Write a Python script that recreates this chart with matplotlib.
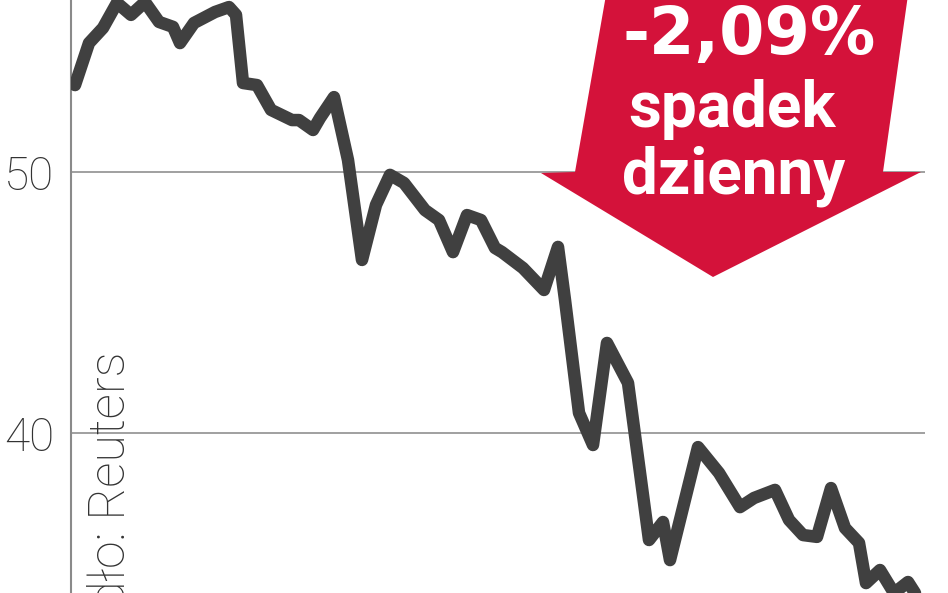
import matplotlib
matplotlib.use('Agg')
import matplotlib.pyplot as plt
from matplotlib.patches import Polygon

# sesje (kolejne notowania) i kurs zamknięcia
sesje = [0, 2, 4, 6, 8, 10, 12, 14, 15, 17, 20, 22, 23, 24, 26, 28, 31, 32,
         34, 35, 37, 39, 41, 43, 45, 47, 50, 52, 54, 56, 58, 60, 61, 64, 67,
         69, 70, 72, 74, 76, 79, 82, 84, 85, 89, 92, 95, 97, 100, 102, 104,
         106, 108, 110, 112, 113, 115, 117, 119, 120]
kurs = [53.33, 54.94, 55.52, 56.48, 56.02, 56.51, 55.75, 55.56, 54.94, 55.71,
        56.13, 56.32, 56.02, 53.41, 53.33, 52.38, 51.99, 51.99, 51.61, 52.07,
        52.87, 50.46, 46.63, 48.74, 49.89, 49.58, 48.54, 48.16, 46.93, 48.35,
        48.16, 47.09, 46.93, 46.32, 45.48, 47.13, 45.10, 40.77, 39.54, 43.45,
        41.92, 35.90, 36.59, 35.13, 39.46, 38.47, 37.16, 37.51, 37.82, 36.67,
        36.09, 36.02, 37.89, 36.36, 35.79, 34.25, 34.75, 33.87, 34.29, 33.87]
y_ticks = [40, 50]
y_labels = ['40', '50']

W, H = 948, 593
fig = plt.figure(figsize=(W / 100, H / 100), dpi=100)


def px(x, y):
    return (x / W, 1 - y / H)


ax = fig.add_axes([71 / W, 0, (925 - 71) / W, 1])
ax.set_xlim(-4 / 7, 850 / 7)
ax.set_ylim(50 - (593 - 172) / 26.1, 50 + 172 / 26.1)

for t in y_ticks:
    ax.axhline(t, color='#a0a0a0', lw=1.4, zorder=1)
ax.plot(sesje, kurs, color='#404040', lw=9, solid_joinstyle='round',
        solid_capstyle='round', zorder=3)

ax.set_yticks(y_ticks)
ax.set_yticklabels(y_labels, fontsize=33, color='#333333',
                   family='Roboto', fontweight='light')
ax.tick_params(axis='y', length=0, pad=12)
ax.set_xticks([])
for side in ['top', 'right', 'bottom']:
    ax.spines[side].set_visible(False)
ax.spines['left'].set_color('#8a8a8a')
ax.spines['left'].set_linewidth(1.5)

# czerwona strzałka
arrow_pts = [(606, -5), (575, 172), (541, 173), (713, 277), (921, 172),
             (883, 172), (908, -5)]
arrow = Polygon([px(x, y) for x, y in arrow_pts], closed=True,
                transform=fig.transFigure, facecolor='#d4123a',
                edgecolor='none', zorder=5)
fig.patches.append(arrow)

fig.text(*px(749, 54), '-2,09%', color='white', fontsize=47,
         family='DejaVu Sans', fontweight='bold', ha='center', va='baseline',
         zorder=6)
fig.text(*px(732, 127), 'spadek', color='white', fontsize=46,
         family='Roboto', fontweight='bold', ha='center', va='baseline',
         zorder=6)
fig.text(*px(734, 193), 'dzienny', color='white', fontsize=46,
         family='Roboto', fontweight='bold', ha='center', va='baseline',
         zorder=6)

fig.text(*px(88, 352), 'Źródło: Reuters', rotation=90, color='#333333',
         fontsize=36, family='Roboto', fontweight='light',
         ha='right', va='top', rotation_mode='anchor', zorder=4)

fig.savefig('out.png', dpi=100, facecolor='white')
